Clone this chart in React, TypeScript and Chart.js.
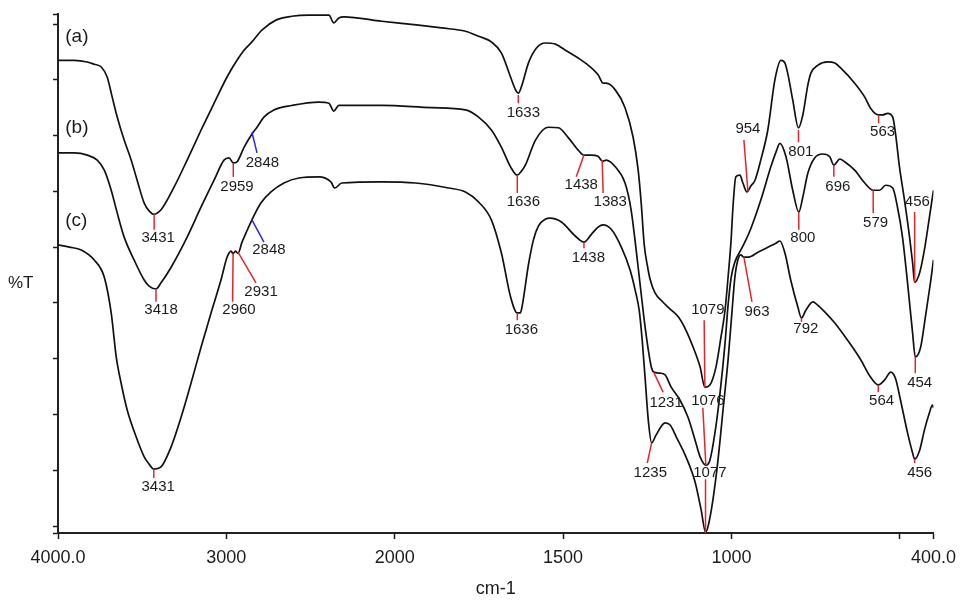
import React, { useEffect, useRef } from 'react';
import { Chart, LinearScale, registerables } from 'chart.js';

// ---------- axis definition ----------
const WN_MAX = 4000;
const WN_BREAK = 2000; // scale doubles below 2000 cm-1
const WN_MIN = 400;

const X_TICKS = [4000, 3000, 2000, 1500, 1000, 500, 400];
const X_TICK_LABELS = ['4000.0', '3000', '2000', '1500', '1000', '', '400.0'];
const Y_MIN = -1.25;
const Y_MAX = 91.8;
const Y_TICKS = [-1.25, 0, 10, 20, 30, 40, 50, 60, 70, 80, 90, 91.8];

const X_TITLE = 'cm-1';
const Y_TITLE = '%T';
const Y_TITLE_T = 43.6;

// ---------- series ----------
const SERIES_NAMES = ['(a)', '(b)', '(c)'];
const SERIES_NAME_WN = 3957;
const SERIES_NAME_T = [87.7, 71.4, 54.7];

const CURVE_A = [
  [4000, 83.5], [3903, 83.5], [3826, 83.2], [3785, 82.8], [3743, 82.3], [3708, 80.5], [3678, 76.9], [3648, 73.3],
  [3607, 69.2], [3565, 65.6], [3530, 62.0], [3488, 57.9], [3459, 56.5], [3431, 55.9], [3388, 56.7], [3310, 60.8],
  [3233, 65.6], [3150, 71.0], [3073, 75.8], [2996, 80.5], [2937, 83.5], [2895, 85.3], [2848, 86.8], [2789, 88.9],
  [2706, 90.7], [2611, 91.4], [2510, 91.6], [2391, 91.6], [2362, 90.2], [2332, 91.1], [2302, 91.3], [2077, 90.5],
  [1929, 89.8], [1861, 89.3], [1790, 88.7], [1751, 87.8], [1713, 86.8], [1683, 84.8], [1656, 80.5], [1641, 78.2],
  [1633, 77.6], [1624, 78.7], [1603, 83.0], [1579, 85.7], [1553, 86.6], [1523, 86.4], [1493, 85.3], [1455, 83.9],
  [1425, 82.6], [1396, 80.9], [1381, 79.4], [1372, 79.4], [1345, 78.2], [1316, 75.0], [1292, 69.7], [1277, 63.8],
  [1268, 57.9], [1259, 50.4], [1250, 46.8], [1241, 44.1], [1227, 41.8], [1206, 40.3], [1182, 38.9], [1158, 37.5],
  [1135, 35.1], [1114, 32.1], [1093, 28.5], [1079, 24.9], [1064, 25.3], [1046, 28.5], [1031, 33.9], [1019, 38.7],
  [1010, 44.6], [1001, 51.3], [996, 56.7], [987, 62.6], [975, 62.9], [966, 61.5], [954, 59.9], [942, 61.0],
  [930, 62.0], [913, 65.6], [892, 71.0], [871, 80.0], [853, 83.5], [841, 83.0], [833, 81.2], [818, 76.4],
  [801, 71.4], [788, 73.7], [773, 79.1], [764, 81.2], [744, 82.6], [714, 83.2], [693, 83.0], [675, 82.1],
  [634, 79.4], [604, 76.9], [587, 74.9], [563, 73.7], [551, 73.7], [536, 74.0], [521, 73.3], [513, 70.5],
  [501, 64.4], [486, 58.4], [471, 51.8], [462, 47.2], [456, 43.7], [441, 45.4], [427, 49.5], [412, 55.4], [400, 60.2],
];

const CURVE_B = [
  [4000, 66.9], [3903, 66.9], [3826, 66.5], [3767, 65.6], [3725, 63.8], [3684, 60.2], [3648, 56.1], [3607, 51.8],
  [3548, 47.7], [3488, 44.1], [3459, 43.0], [3418, 42.5], [3388, 43.6], [3328, 46.4], [3233, 51.8], [3150, 57.2],
  [3073, 62.0], [3014, 65.6], [2984, 66.0], [2959, 65.1], [2937, 65.3], [2895, 67.9], [2848, 70.3], [2818, 71.5],
  [2777, 73.3], [2718, 74.6], [2611, 75.4], [2451, 76.0], [2391, 75.8], [2362, 74.4], [2332, 75.4], [2077, 75.4],
  [1890, 75.0], [1790, 74.6], [1751, 73.3], [1713, 71.0], [1683, 67.9], [1656, 64.4], [1636, 62.9], [1624, 63.6],
  [1612, 64.7], [1582, 69.2], [1544, 71.5], [1514, 71.4], [1484, 69.6], [1455, 67.4], [1438, 66.5], [1416, 66.5],
  [1396, 66.3], [1383, 65.4], [1372, 65.6], [1345, 64.4], [1316, 61.5], [1298, 56.7], [1283, 49.5], [1271, 43.2],
  [1259, 36.9], [1247, 31.6], [1238, 28.5], [1231, 27.6], [1212, 27.4], [1197, 27.1], [1179, 24.9], [1153, 22.6],
  [1129, 19.5], [1108, 15.4], [1093, 12.4], [1076, 10.9], [1064, 11.8], [1049, 16.7], [1034, 23.8], [1019, 32.8],
  [1010, 39.6], [1001, 44.5], [990, 47.3], [972, 49.5], [957, 51.3], [942, 53.4], [913, 58.4], [883, 64.4],
  [868, 67.0], [856, 68.6], [838, 66.2], [818, 60.2], [800, 56.3], [788, 59.0], [773, 63.3], [753, 66.0],
  [729, 66.7], [708, 66.2], [696, 64.7], [678, 65.8], [664, 65.3], [634, 63.8], [604, 61.5], [579, 60.2],
  [560, 60.2], [542, 61.1], [521, 60.6], [507, 57.2], [492, 51.8], [477, 43.6], [462, 34.6], [454, 30.3],
  [438, 32.1], [424, 37.5], [409, 43.6], [400, 47.7],
];

const CURVE_C = [
  [4000, 50.4], [3933, 50.0], [3862, 49.5], [3785, 47.7], [3725, 44.6], [3684, 38.2], [3654, 30.3], [3625, 25.6],
  [3589, 20.8], [3536, 16.0], [3488, 12.4], [3459, 11.1], [3431, 10.2], [3388, 10.6], [3328, 14.2], [3269, 19.5],
  [3210, 25.6], [3150, 32.1], [3091, 38.2], [3032, 44.1], [2996, 48.2], [2972, 49.3], [2960, 48.8], [2946, 49.3],
  [2931, 48.9], [2907, 50.9], [2884, 52.5], [2848, 54.9], [2795, 57.9], [2735, 59.9], [2658, 61.5], [2569, 62.4],
  [2451, 62.6], [2379, 61.7], [2356, 60.6], [2314, 61.5], [2077, 61.7], [1938, 61.5], [1840, 60.6], [1790, 59.9],
  [1751, 58.1], [1713, 54.9], [1683, 48.9], [1656, 41.1], [1636, 38.2], [1627, 38.2], [1621, 39.6], [1603, 46.8],
  [1588, 51.3], [1573, 53.8], [1553, 55.0], [1538, 55.2], [1505, 54.5], [1464, 52.0], [1438, 50.9], [1416, 52.3],
  [1396, 53.6], [1381, 54.0], [1357, 53.2], [1327, 50.0], [1301, 45.9], [1286, 42.3], [1274, 38.7], [1265, 33.3],
  [1256, 26.2], [1247, 19.0], [1237, 14.9], [1224, 16.3], [1197, 18.5], [1182, 18.1], [1164, 16.0], [1135, 12.4],
  [1108, 7.9], [1090, 2.9], [1077, -1.1], [1070, -0.2], [1055, 4.7], [1040, 11.8], [1025, 20.8], [1010, 29.8],
  [998, 38.7], [990, 44.5], [981, 47.7], [972, 48.6], [963, 48.2], [951, 48.2], [921, 49.1], [892, 50.0],
  [868, 50.7], [856, 51.1], [841, 48.9], [824, 44.1], [803, 39.3], [792, 37.3], [779, 38.7], [758, 40.2],
  [744, 39.6], [723, 38.4], [693, 36.4], [655, 33.3], [616, 29.8], [587, 26.7], [564, 25.3], [545, 26.2],
  [527, 27.6], [513, 26.5], [498, 22.6], [477, 16.7], [462, 13.1], [456, 12.0], [441, 13.6], [427, 17.2],
  [412, 20.3], [403, 21.7], [400, 21.2],
];

// peak marks: [label, tip wn, tip %T, line-end wn, line-end %T, text wn, text %T]
const PEAKS_A = [
  ['3431', 3429, 56.1, 3429, 53.1, 3405, 51.6],
  ['1633', 1633, 77.3, 1633, 75.8, 1618, 74.0],
  ['1079', 1079, 24.9, 1081, 36.9, 1070, 38.7],
  ['954', 951, 59.9, 963, 69.2, 951, 71.2],
  ['801', 801, 71.0, 801, 68.8, 794, 67.0],
  ['563', 563, 73.7, 563, 72.2, 551, 70.6],
  ['456', 456, 43.6, 456, 56.3, 448, 58.1],
];
const PEAKS_B = [
  ['3418', 3418, 42.3, 3418, 40.2, 3388, 38.7],
  ['2959', 2959, 65.1, 2959, 62.6, 2937, 60.8],
  ['2848', 2848, 70.6, 2818, 66.9, 2786, 65.1],
  ['1636', 1636, 62.9, 1636, 59.7, 1618, 58.1],
  ['1438', 1438, 66.5, 1461, 62.6, 1446, 61.1],
  ['1383', 1384, 65.6, 1381, 59.7, 1360, 58.1],
  ['1231', 1231, 27.6, 1203, 24.0, 1194, 22.1],
  ['1076', 1076, 10.9, 1085, 21.2, 1070, 22.4],
  ['800', 800, 56.3, 800, 53.1, 788, 51.6],
  ['696', 696, 64.7, 696, 62.6, 684, 60.8],
  ['579', 579, 60.2, 579, 56.1, 572, 54.3],
  ['454', 454, 30.3, 454, 27.4, 441, 25.6],
];
const PEAKS_C = [
  ['3431', 3431, 10.2, 3431, 8.6, 3405, 7.0],
  ['2960', 2960, 48.9, 2963, 40.2, 2925, 38.7],
  ['2931', 2931, 49.1, 2824, 43.6, 2794, 42.0],
  ['2848', 2848, 54.9, 2777, 50.9, 2747, 49.5],
  ['1636', 1636, 38.2, 1636, 36.9, 1624, 35.1],
  ['1438', 1438, 50.9, 1438, 49.8, 1425, 48.0],
  ['1235', 1237, 14.9, 1250, 11.3, 1241, 9.5],
  ['1077', 1077, -1.25, 1077, 8.4, 1064, 9.5],
  ['963', 963, 48.2, 939, 40.2, 924, 38.4],
  ['792', 792, 37.3, 792, 36.6, 779, 35.3],
  ['564', 564, 25.3, 564, 24.0, 554, 22.4],
  ['456', 456, 12.0, 456, 11.3, 441, 9.5],
];
const BLUE_PEAKS = ['2848'];

// ---------- styles ----------
const FONT = "'Liberation Sans', Arial, Helvetica, sans-serif";
const INK = '#1c1c1c';
const RED = '#e3262c';
const BLUE = '#2a2ad6';

// piecewise wavenumber scale (4000-2000 compressed 2:1)
class IRScale extends LinearScale {
  static id = 'irbreak';
  toDecimal(v: number) {
    const hi = (WN_MAX - WN_BREAK) / 2;
    const total = hi + (WN_BREAK - WN_MIN);
    const u = v >= WN_BREAK ? (WN_MAX - v) / 2 : hi + (WN_BREAK - v);
    return u / total;
  }
  getPixelForValue(value: number) {
    return this.getPixelForDecimal(this.toDecimal(value));
  }
  getValueForPixel(pixel: number) {
    const hi = (WN_MAX - WN_BREAK) / 2;
    const total = hi + (WN_BREAK - WN_MIN);
    const u = this.getDecimalForPixel(pixel) * total;
    return u <= hi ? WN_MAX - u * 2 : WN_BREAK - (u - hi);
  }
}

Chart.register(...registerables, IRScale);

const annotations = {
  id: 'irAnnotations',
  afterDatasetsDraw(chart: any) {
    const { ctx } = chart;
    const xs = chart.scales.x;
    const ys = chart.scales.y;
    ctx.save();
    ctx.lineWidth = 1.5;
    ctx.font = `15px ${FONT}`;
    ctx.textAlign = 'center';
    ctx.textBaseline = 'middle';
    for (const p of [...PEAKS_A, ...PEAKS_B, ...PEAKS_C]) {
      const [text, tw, tt, ew, et, lw, lt] = p as [string, number, number, number, number, number, number];
      ctx.strokeStyle = BLUE_PEAKS.includes(text) ? BLUE : RED;
      ctx.beginPath();
      ctx.moveTo(xs.getPixelForValue(tw), ys.getPixelForValue(tt));
      ctx.lineTo(xs.getPixelForValue(ew), ys.getPixelForValue(et));
      ctx.stroke();
      ctx.fillStyle = INK;
      ctx.fillText(text, xs.getPixelForValue(lw), ys.getPixelForValue(lt));
    }
    ctx.font = `19px ${FONT}`;
    ctx.textAlign = 'left';
    SERIES_NAMES.forEach((name, i) => {
      ctx.fillText(name, xs.getPixelForValue(SERIES_NAME_WN), ys.getPixelForValue(SERIES_NAME_T[i]));
    });
    ctx.font = `17px ${FONT}`;
    ctx.fillText(Y_TITLE, 8, ys.getPixelForValue(Y_TITLE_T));
    ctx.restore();
  },
};

export default function App() {
  const ref = useRef<HTMLCanvasElement>(null);
  useEffect(() => {
    if (!ref.current) return;
    const curves = [CURVE_A, CURVE_B, CURVE_C];
    const chart = new Chart(ref.current, {
      type: 'line',
      data: {
        datasets: curves.map((c, i) => ({
          label: SERIES_NAMES[i],
          data: c.map(([x, y]) => ({ x, y })),
          borderColor: '#111',
          borderWidth: 1.7,
          pointRadius: 0,
          fill: false,
          cubicInterpolationMode: 'monotone',
        })),
      },
      options: {
        responsive: false,
        animation: false,
        devicePixelRatio: 1,
        events: [],
        layout: { padding: { left: 0, right: 28, top: 14, bottom: 0 } },
        plugins: { legend: { display: false }, tooltip: { enabled: false } },
        scales: {
          x: {
            type: 'irbreak',
            min: WN_MIN,
            max: WN_MAX,
            afterBuildTicks: (s: any) => {
              s.ticks = X_TICKS.map((v) => ({ value: v }));
            },
            afterFit: (s: any) => {
              s.height = 67;
            },
            ticks: {
              autoSkip: false,
              maxRotation: 0,
              padding: 8,
              color: INK,
              font: { family: FONT, size: 18 },
              callback: (_v: any, i: number) => X_TICK_LABELS[i] ?? '',
            },
            grid: {
              drawOnChartArea: false,
              drawTicks: true,
              tickLength: 6,
              tickWidth: 1.5,
              tickColor: INK,
              color: INK,
            },
            border: { display: true, color: '#222', width: 2 },
            title: {
              display: true,
              text: X_TITLE,
              color: INK,
              font: { family: FONT, size: 18 },
              padding: { top: 0, bottom: 0 },
            },
          },
          y: {
            type: 'linear',
            min: Y_MIN,
            max: Y_MAX,
            afterBuildTicks: (s: any) => {
              s.ticks = Y_TICKS.map((v) => ({ value: v }));
            },
            afterFit: (s: any) => {
              s.width = 58;
            },
            ticks: { display: false },
            grid: {
              drawOnChartArea: false,
              drawTicks: true,
              tickLength: 5,
              tickWidth: 1.5,
              tickColor: INK,
              color: INK,
            },
            border: { display: true, color: '#222', width: 2 },
          },
        },
      },
      plugins: [annotations],
    } as any);
    return () => chart.destroy();
  }, []);
  return (
    <div style={{ position: 'fixed', left: 0, top: 0, width: 964, height: 600, background: '#fff' }}>
      <canvas ref={ref} width={964} height={600} style={{ display: 'block', width: 964, height: 600 }} />
    </div>
  );
}
